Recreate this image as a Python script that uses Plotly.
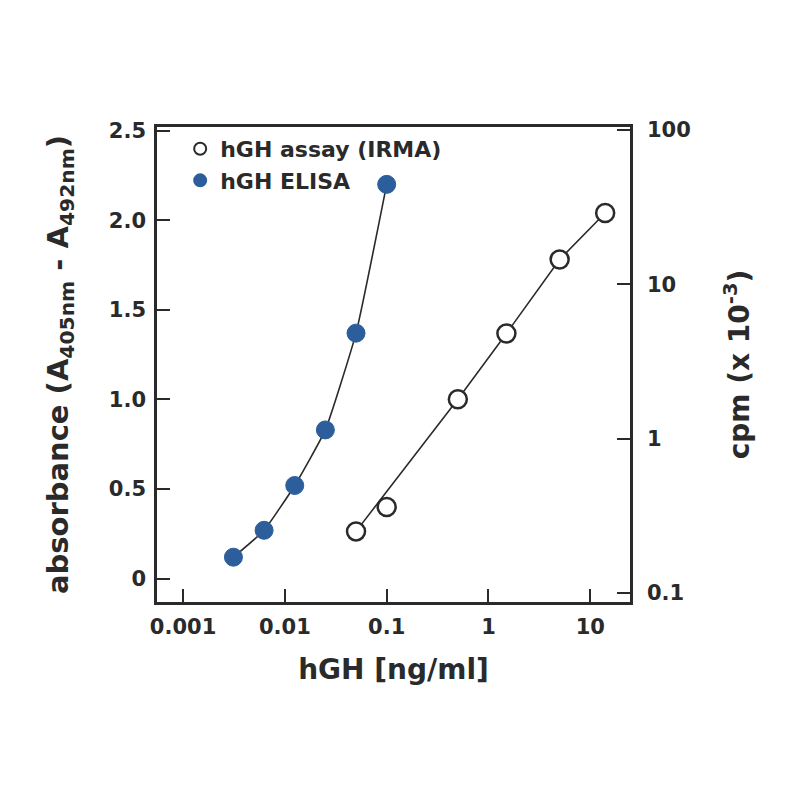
import plotly.graph_objects as go

# hGH ELISA (left axis, absorbance)
elisa_conc = [0.003125, 0.00625, 0.0125, 0.025, 0.05, 0.1]
elisa_abs = [0.12, 0.27, 0.52, 0.83, 1.37, 2.20]

# hGH assay IRMA (right axis, cpm x 10^-3)
irma_conc = [0.05, 0.1, 0.5, 1.5, 5, 14]
irma_cpm = [0.25, 0.36, 1.8, 4.8, 14.5, 29]

# the IRMA line is a straight fit that passes beside the 0.1 point
irma_line_conc = [0.05, 0.5, 1.5, 5, 14]
irma_line_cpm = [0.25, 1.8, 4.8, 14.5, 29]

x_ticks = [0.001, 0.01, 0.1, 1, 10]
x_labels = ["0.001", "0.01", "0.1", "1", "10"]
left_ticks = [0, 0.5, 1.0, 1.5, 2.0, 2.5]
left_labels = ["0", "0.5", "1.0", "1.5", "2.0", "2.5"]
right_ticks = [0.1, 1, 10, 100]
right_labels = ["0.1", "1", "10", "100"]

FONT = "DejaVu Sans"
INK = "#2a2a2a"
BLUE = "#2b5e9a"

fig = go.Figure()

# connecting lines (kept out of the legend)
fig.add_trace(go.Scatter(
    x=irma_line_conc, y=irma_line_cpm, yaxis="y2",
    mode="lines", line=dict(color=INK, width=1.6),
    showlegend=False, hoverinfo="skip",
))
fig.add_trace(go.Scatter(
    x=elisa_conc, y=elisa_abs,
    mode="lines", line=dict(color=INK, width=1.6, shape="spline", smoothing=0.4),
    showlegend=False, hoverinfo="skip",
))

fig.add_trace(go.Scatter(
    x=irma_conc, y=irma_cpm, yaxis="y2",
    mode="markers", name="hGH assay (IRMA)",
    marker=dict(symbol="circle", size=18, color="white",
                line=dict(color=INK, width=2.5)),
))
fig.add_trace(go.Scatter(
    x=elisa_conc, y=elisa_abs,
    mode="markers", name="hGH ELISA",
    marker=dict(symbol="circle", size=18, color=BLUE,
                line=dict(color=BLUE, width=1)),
))

axis_line = dict(showline=True, linecolor=INK, linewidth=2.5,
                 ticks="inside", ticklen=13, tickwidth=2, tickcolor=INK,
                 showgrid=False, zeroline=False)
tick_font = dict(size=21, family=FONT, weight="bold")
title_font = dict(size=28, family=FONT, weight="bold")

fig.update_layout(
    width=800, height=800,
    margin=dict(l=149, r=178, t=119, b=206),
    paper_bgcolor="white", plot_bgcolor="white",
    font=dict(family=FONT, color=INK),
    xaxis=dict(
        type="log", range=[-3.256, 1.39],
        tickvals=x_ticks, ticktext=x_labels,
        tickfont=tick_font, ticklabelstandoff=4,
        mirror=True,
        title=dict(text="hGH [ng/ml]", standoff=22, font=title_font),
        **axis_line,
    ),
    yaxis=dict(
        range=[-0.13, 2.52],
        tickvals=left_ticks, ticktext=left_labels,
        tickfont=tick_font, ticklabelstandoff=4,
        title=dict(text="absorbance (A<sub>405nm</sub> - A<sub>492nm</sub>)",
                   standoff=32, font=dict(size=29, family=FONT, weight="bold")),
        **axis_line,
    ),
    yaxis2=dict(
        type="log", range=[-1.06, 2.02],
        overlaying="y", side="right",
        tickvals=right_ticks, ticktext=right_labels,
        tickfont=tick_font, ticklabelstandoff=10,
        title=dict(text="cpm (x 10<sup>-3</sup>)", standoff=40, font=title_font),
        **axis_line,
    ),
    legend=dict(
        x=0.049, y=0.998, xanchor="left", yanchor="top",
        bgcolor="rgba(0,0,0,0)",
        font=dict(size=22, family=FONT, weight="bold", color=INK),
        itemsizing="constant",
    ),
)

fig.write_html("out.html")
